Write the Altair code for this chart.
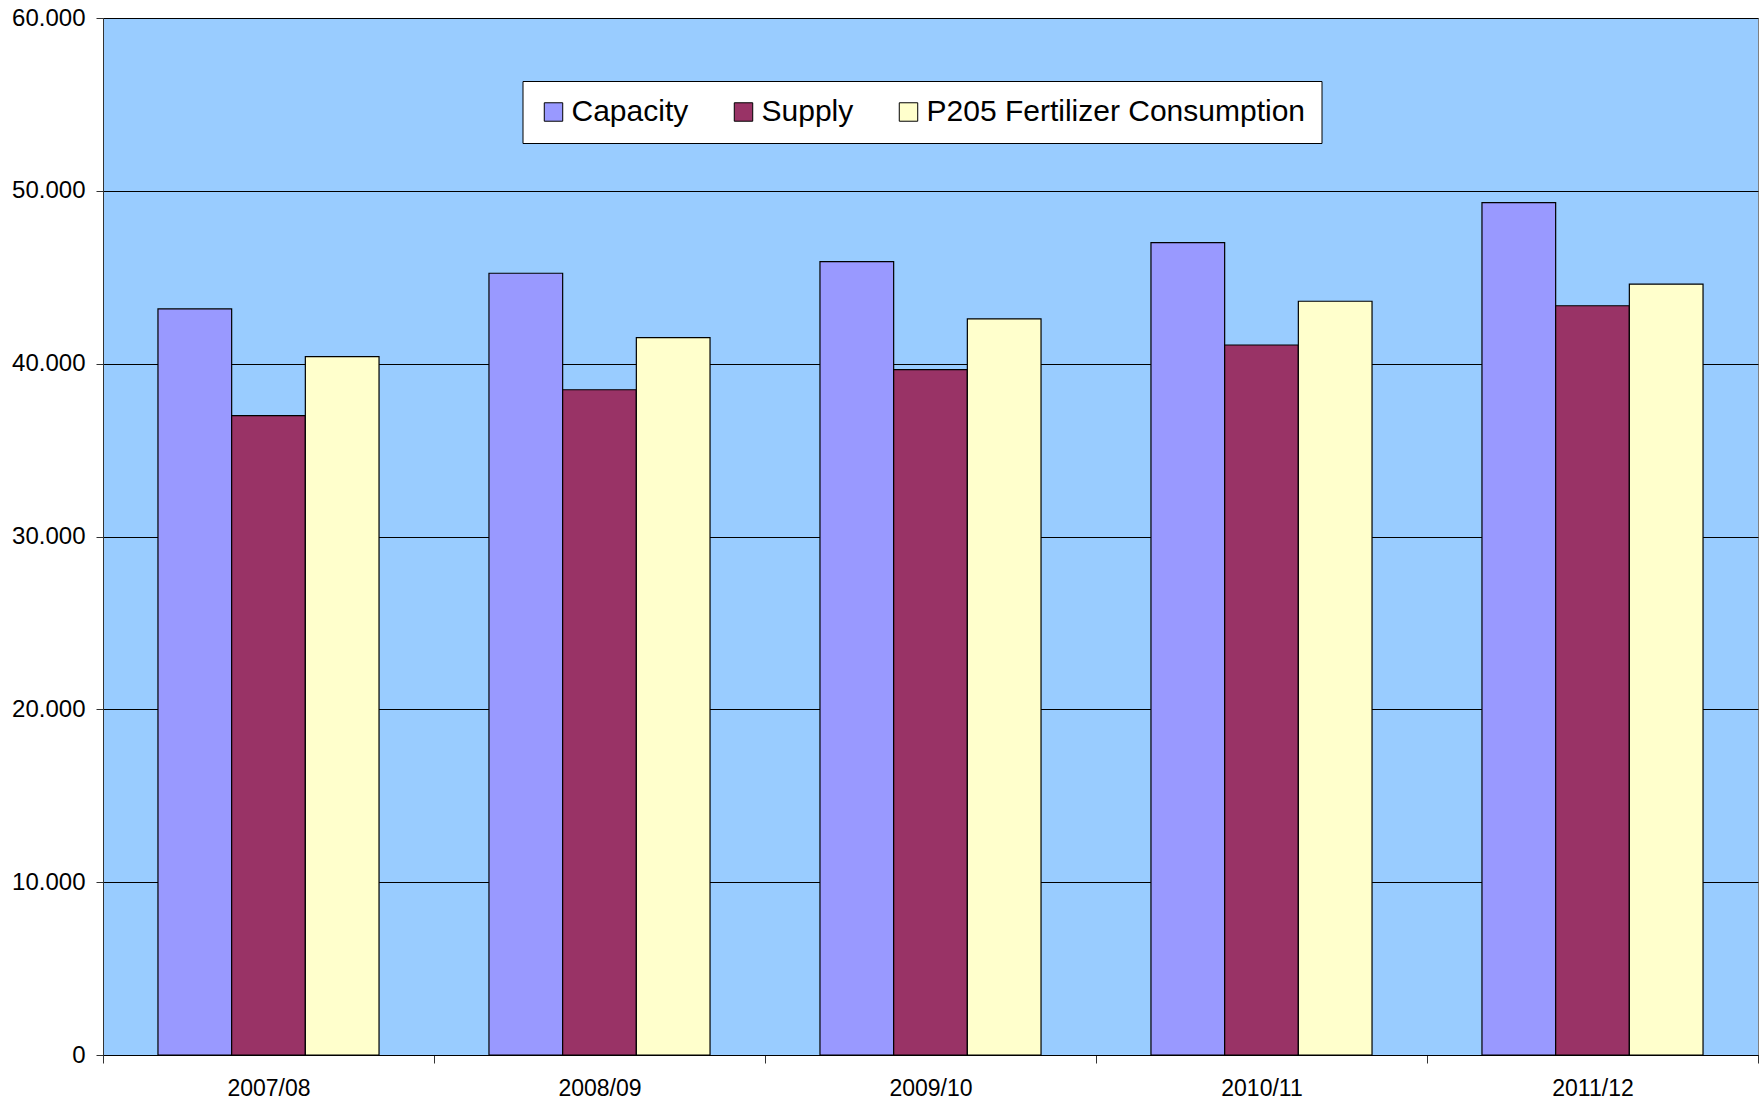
import altair as alt
import pandas as pd

# Phosphate balance by marketing year (thousand tonnes P2O5)
years = ["2007/08", "2008/09", "2009/10", "2010/11", "2011/12"]
series = ["Capacity", "Supply", "P205 Fertilizer Consumption"]
capacity = [43170, 45230, 45900, 47000, 49320]
supply = [36990, 38490, 39650, 41080, 43350]
consumption = [40410, 41510, 42590, 43610, 44600]
colors = ["#9999FF", "#993366", "#FFFFCC"]
y_ticks = [0, 10000, 20000, 30000, 40000, 50000, 60000]

rows = []
for name, vals in zip(series, [capacity, supply, consumption]):
    for yr, v in zip(years, vals):
        rows.append({"year": yr, "series": name, "value": v})
df = pd.DataFrame(rows)

FONT = "Liberation Sans"

bars = alt.Chart(df).mark_bar(stroke="black", strokeWidth=1.2).encode(
    x=alt.X(
        "year:N",
        sort=years,
        scale=alt.Scale(paddingInner=0, paddingOuter=0),
        axis=alt.Axis(
            title=None,
            labelAngle=0,
            tickBand="extent",
            tickSize=8,
            tickColor="#333333",
            domainColor="black",
            labelFont=FONT,
            labelFontSize=23,
            labelColor="black",
            labelPadding=14,
            grid=False,
        ),
    ),
    xOffset=alt.XOffset(
        "series:N",
        sort=series,
        scale=alt.Scale(paddingInner=0, paddingOuter=0.746),
    ),
    y=alt.Y(
        "value:Q",
        scale=alt.Scale(domain=[0, 60000], nice=False),
        axis=alt.Axis(
            title=None,
            values=y_ticks,
            labelExpr="replace(format(datum.value, ','), ',', '.')",
            tickSize=7,
            tickColor="#333333",
            domainColor="#333333",
            labelFont=FONT,
            labelFontSize=24,
            labelColor="black",
            labelPadding=11,
            grid=True,
            gridColor="black",
            gridOpacity=1,
            gridWidth=1,
        ),
    ),
    color=alt.Color(
        "series:N",
        sort=series,
        scale=alt.Scale(domain=series, range=colors),
        legend=alt.Legend(
            title=None,
            orient="none",
            legendX=419.5,
            legendY=63,
            direction="horizontal",
            fillColor="white",
            strokeColor="black",
            padding=16,
            columnPadding=40,
            labelOffset=3,
            labelLimit=700,
            labelFont=FONT,
            labelFontSize=30,
            labelColor="black",
            symbolType="square",
            symbolSize=340,
            symbolStrokeColor="black",
            symbolStrokeWidth=1,
            symbolOpacity=1,
        ),
    ),
)

chart = bars.properties(
    width=1655,
    height=1037,
    autosize=alt.AutoSizeParams(type="none"),
    padding={"left": 103, "top": 18, "right": 4, "bottom": 45},
    background="white",
).configure_view(
    fill="#99CCFF",
    stroke="#808080",
    strokeWidth=1,
)

chart.save("out.html", embed_options={"renderer": "svg", "actions": False})
